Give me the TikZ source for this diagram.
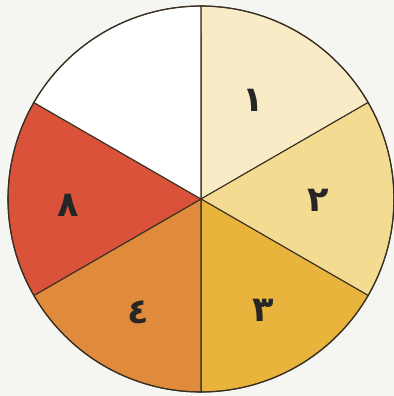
\documentclass[tikz,border=0pt]{standalone}
\usepackage{fontspec}
\usepackage{tikz}
\usetikzlibrary{positioning,calc}
\TeXXeTstate=1
\newfontfamily\arabicfont[Script=Arabic]{DejaVu Sans}
\definecolor{bgpaper}{HTML}{F5F6F1}
\definecolor{rim}{HTML}{3A3024}
\definecolor{secone}{HTML}{F8EBC6}
\definecolor{sectwo}{HTML}{F3DB92}
\definecolor{secthree}{HTML}{E9B43C}
\definecolor{secfour}{HTML}{E08B3C}
\definecolor{seceight}{HTML}{D95239}
\newcommand{\ar}[1]{{\arabicfont\bfseries\beginR #1\endR}}

\begin{document}
\begin{tikzpicture}[
    x=0.02cm, y=0.02cm,
    every node/.style={font=\fontsize{20}{24}\selectfont, text=black!85},
    sector/.style={draw=rim, line width=0.6pt, line join=round},
    digit/.style={inner sep=0pt},
]
\useasboundingbox (0,0) rectangle (394,396);
\fill[bgpaper] (0,0) rectangle (394,396);

% Centre of the spinner
\coordinate (c) at (201,197);

% Sectors
\foreach \a/\b/\col in {90/30/secone, 30/-30/sectwo, -30/-90/secthree,
                        -90/-150/secfour, 210/150/seceight, 150/90/white}
  \filldraw[sector, fill=\col] (c) -- ++(\a:193) arc (\a:\b:3.86cm) -- cycle;

\draw[draw=rim, line width=0.7pt] (c) circle (3.86cm);

% Labels
\node[digit] (one)   at (253,296) {\ar{١}};
\node[digit] (two)   at (318,196) {\ar{٢}};
\node[digit] (three) at (263,86)  {\ar{٣}};
\node[digit] (four)  at (138,84)  {\ar{٤}};
\node[digit] (eight) at (68,191)  {\ar{٨}};

\end{tikzpicture}
\end{document}
